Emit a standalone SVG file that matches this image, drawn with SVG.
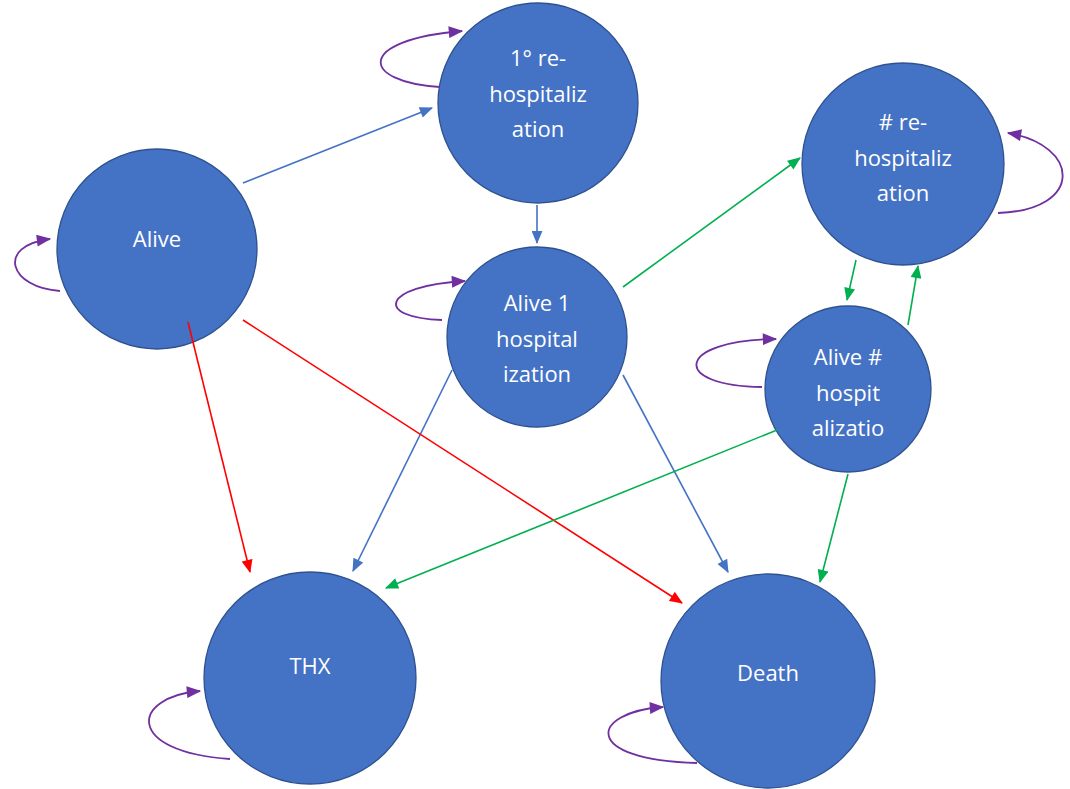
<svg xmlns="http://www.w3.org/2000/svg" width="1070" height="789" viewBox="0 0 1070 789">
  <style>
    .node circle { fill: #4472C4; stroke: #2F528F; stroke-width: 1.3; }
    .node text { fill: #FFFFFF; font-family: "Open Sans", "Noto Sans", sans-serif; font-size: 22px; text-anchor: middle; }
    .edge { fill: none; stroke-width: 1.6; }
    .blue { stroke: #4472C4; }
    .red { stroke: #FF0000; }
    .green { stroke: #00B050; }
    .purple { stroke: #7030A0; stroke-width: 1.8; }
  </style>
  <defs>
    <marker id="ah-blue" viewBox="0 0 12 10" refX="11" refY="5" markerWidth="14" markerHeight="11" markerUnits="userSpaceOnUse" orient="auto">
      <path d="M0,0 L12,5 L0,10 Z" fill="#4472C4"/>
    </marker>
    <marker id="ah-red" viewBox="0 0 12 10" refX="11" refY="5" markerWidth="14" markerHeight="11" markerUnits="userSpaceOnUse" orient="auto">
      <path d="M0,0 L12,5 L0,10 Z" fill="#FF0000"/>
    </marker>
    <marker id="ah-green" viewBox="0 0 12 10" refX="11" refY="5" markerWidth="14" markerHeight="11" markerUnits="userSpaceOnUse" orient="auto">
      <path d="M0,0 L12,5 L0,10 Z" fill="#00B050"/>
    </marker>
    <marker id="ah-purple" viewBox="0 0 12 10" refX="11" refY="5" markerWidth="15" markerHeight="12" markerUnits="userSpaceOnUse" orient="auto">
      <path d="M0,0 L12,5 L0,10 Z" fill="#7030A0"/>
    </marker>
  </defs>

  <rect width="1070" height="789" fill="#FFFFFF"/>

  <!-- Nodes -->
  <g id="node-alive" class="node">
    <circle cx="157" cy="249" r="100"/>
    <text x="157" y="247">Alive</text>
  </g>
  <g id="node-first-rehosp" class="node">
    <circle cx="538" cy="103" r="100"/>
    <text x="538" y="66">1° re-</text>
    <text x="538" y="102">hospitaliz</text>
    <text x="538" y="137">ation</text>
  </g>
  <g id="node-n-rehosp" class="node">
    <circle cx="903" cy="164" r="101"/>
    <text x="903" y="130"># re-</text>
    <text x="903" y="166">hospitaliz</text>
    <text x="903" y="201">ation</text>
  </g>
  <g id="node-alive-1" class="node">
    <circle cx="537" cy="337" r="90"/>
    <text x="537" y="311">Alive 1</text>
    <text x="537" y="347">hospital</text>
    <text x="537" y="382">ization</text>
  </g>
  <g id="node-alive-n" class="node">
    <circle cx="848" cy="389" r="83"/>
    <text x="848" y="365">Alive #</text>
    <text x="848" y="401">hospit</text>
    <text x="848" y="436">alizatio</text>
  </g>
  <g id="node-thx" class="node">
    <circle cx="310" cy="678" r="106"/>
    <text x="310" y="674">THX</text>
  </g>
  <g id="node-death" class="node">
    <circle cx="768" cy="681" r="107"/>
    <text x="768" y="681">Death</text>
  </g>

  <!-- Connectors -->
  <g id="connectors">
    <!-- blue transitions -->
    <line class="edge blue" x1="243" y1="183" x2="432" y2="108" marker-end="url(#ah-blue)"/>
    <line class="edge blue" x1="537" y1="205" x2="537" y2="243" marker-end="url(#ah-blue)"/>
    <line class="edge blue" x1="452" y1="370" x2="353" y2="571" marker-end="url(#ah-blue)"/>
    <line class="edge blue" x1="623" y1="375" x2="728" y2="572" marker-end="url(#ah-blue)"/>
    <!-- red transitions -->
    <line class="edge red" x1="188" y1="322" x2="250" y2="572" marker-end="url(#ah-red)"/>
    <line class="edge red" x1="243" y1="320" x2="682" y2="603" marker-end="url(#ah-red)"/>
    <!-- green transitions -->
    <line class="edge green" x1="623" y1="287" x2="800" y2="158" marker-end="url(#ah-green)"/>
    <line class="edge green" x1="856" y1="260" x2="847" y2="300" marker-end="url(#ah-green)"/>
    <line class="edge green" x1="908" y1="325" x2="918" y2="266" marker-end="url(#ah-green)"/>
    <line class="edge green" x1="777" y1="430" x2="386" y2="588" marker-end="url(#ah-green)"/>
    <line class="edge green" x1="848" y1="474" x2="820" y2="582" marker-end="url(#ah-green)"/>
    <!-- self loops -->
    <path class="edge purple" d="M60,291 C10,288 -5,246 50,239" marker-end="url(#ah-purple)"/>
    <path class="edge purple" d="M440,87 C360,82 355,40 462,31" marker-end="url(#ah-purple)"/>
    <path class="edge purple" d="M998,213 C1085,210 1080,145 1008,133" marker-end="url(#ah-purple)"/>
    <path class="edge purple" d="M442,320 C375,318 380,286 465,281" marker-end="url(#ah-purple)"/>
    <path class="edge purple" d="M762,387 C670,386 675,340 776,339" marker-end="url(#ah-purple)"/>
    <path class="edge purple" d="M230,759 C125,752 130,697 200,691" marker-end="url(#ah-purple)"/>
    <path class="edge purple" d="M697,763 C580,760 590,712 663,707" marker-end="url(#ah-purple)"/>
  </g>
</svg>
